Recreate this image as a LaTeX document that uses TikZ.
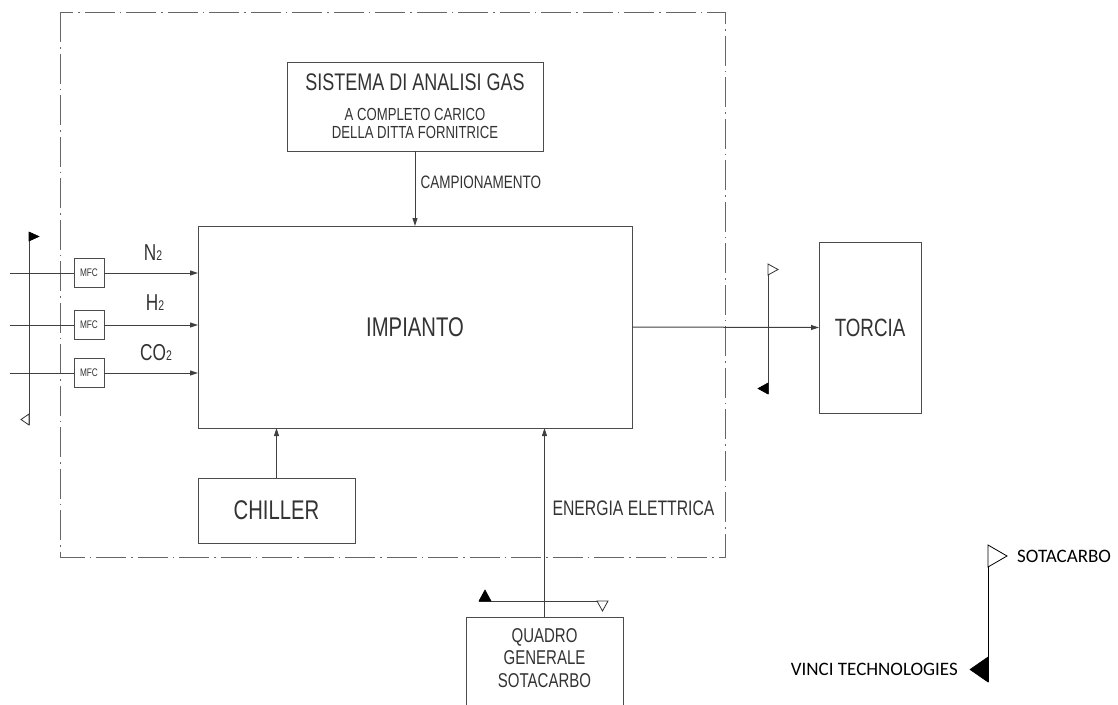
\documentclass[tikz,border=0pt]{standalone}
\usepackage{fontspec}
\newfontfamily\cadfont[FakeStretch=0.75]{Liberation Sans}
\newfontfamily\legendfont{Carlito}
\usetikzlibrary{arrows.meta,positioning}

\begin{document}
\begin{tikzpicture}[x=1pt,y=-1pt,
    blk/.style={draw=black!70, line width=1pt, inner sep=0pt, outer sep=0pt, text=black!80, font=\cadfont},
    mfc/.style={blk, minimum width=30pt, minimum height=29pt, font=\cadfont\fontsize{11}{12}\selectfont},
    cadtxt/.style={inner sep=0pt, text=black!80, font=\cadfont\fontsize{18}{20}\selectfont},
    legtxt/.style={inner sep=0pt, text=black, font=\legendfont\fontsize{19}{21}\selectfont},
    ln/.style={draw=black!75, line width=1pt},
    arr/.style={-{Triangle[length=8pt,width=5pt]}, draw=black!75, line width=1pt},
    bound/.style={draw=black!60, line width=1pt, dash pattern=on 30pt off 5pt on 1.5pt off 5pt},
    flagfull/.style={fill=black, draw=black, line width=0.6pt},
    flagopen/.style={fill=white, draw=black!80, line width=0.8pt}
]
\useasboundingbox (0,0) rectangle (1118,704);

% confine fornitura
\draw[bound] (60,12) rectangle (725,557);

% blocchi
\node[blk, minimum width=434pt, minimum height=202pt, font=\cadfont\fontsize{27}{30}\selectfont] (impianto) at (415,327) {IMPIANTO};
\node[blk, minimum width=256pt, minimum height=89pt, align=center, font=\cadfont\fontsize{17.5}{18}\selectfont] (sistema) at (415,106.5)
    {{\fontsize{24}{26}\selectfont SISTEMA DI ANALISI GAS}\\[12pt]A COMPLETO CARICO\\DELLA DITTA FORNITRICE};
\node[blk, minimum width=157pt, minimum height=65pt, font=\cadfont\fontsize{27}{30}\selectfont] (chiller) at (276.5,510.5) {CHILLER};
\node[blk, minimum width=102pt, minimum height=171pt, font=\cadfont\fontsize{25}{28}\selectfont] (torcia) at (870,327.5) {TORCIA};
\node[blk, anchor=north, minimum width=157pt, minimum height=100pt] (quadro) at (544.5,617) {};
\node[cadtxt, align=center, font=\cadfont\fontsize{20}{22.5}\selectfont, below=11pt of quadro.north] (quadrotxt) {QUADRO\\GENERALE\\SOTACARBO};

% alimentazione gas
\node[mfc] (mfcN) at (89,273) {MFC};
\node[mfc] (mfcH) at (89,325) {MFC};
\node[mfc] (mfcCO) at (89,373) {MFC};
\coordinate (inN) at (10,273);
\coordinate (inH) at (10,325);
\coordinate (inCO) at (10,373);
\node[cadtxt, font=\cadfont\fontsize{23}{25}\selectfont] (lblN) at (153,253) {N{\fontsize{14}{15}\selectfont 2}};
\node[cadtxt, font=\cadfont\fontsize{23}{25}\selectfont] (lblH) at (155,303) {H{\fontsize{14}{15}\selectfont 2}};
\node[cadtxt, font=\cadfont\fontsize{23}{25}\selectfont] (lblCO) at (156,353) {CO{\fontsize{14}{15}\selectfont 2}};

\draw[ln] (inN) -- (mfcN);
\draw[ln] (inH) -- (mfcH);
\draw[ln] (inCO) -- (mfcCO);
\draw[arr] (mfcN) -- (mfcN -| impianto.west);
\draw[arr] (mfcH) -- (mfcH -| impianto.west);
\draw[arr] (mfcCO) -- (mfcCO -| impianto.west);

% collegamenti
\draw[arr] (sistema.south) -- node[cadtxt, anchor=west, xshift=5pt, pos=0.42] (lblcamp) {CAMPIONAMENTO} (impianto.north);
\draw[arr] (chiller.north) -- (chiller.north |- impianto.south);
\draw[arr] (quadro.north) -- node[cadtxt, anchor=west, xshift=7.5pt, pos=0.577, font=\cadfont\fontsize{21}{23}\selectfont] (lblen) {ENERGIA ELETTRICA} (quadro.north |- impianto.south);
\draw[arr] (impianto.east) -- (torcia.west);

% limiti di fornitura
\draw[ln] (29,232) -- (29,425);
\filldraw[flagfull] (29,232) -- (39,236.5) -- (29,241) -- cycle;
\filldraw[flagopen] (29,414) -- (21,419.5) -- (29,425) -- cycle;

\draw[ln] (768,264) -- (768,394);
\filldraw[flagopen] (768,264) -- (778,269.5) -- (768,275) -- cycle;
\filldraw[flagfull] (768,383) -- (758,388.5) -- (768,394) -- cycle;

\draw[ln] (479,601) -- (608,601);
\filldraw[flagfull] (479,601) -- (485,590) -- (491,601) -- cycle;
\filldraw[flagopen] (597,601) -- (602.5,611) -- (608,601) -- cycle;

% legenda
\draw[black, line width=1pt] (988,545) -- (988,682);
\filldraw[flagopen, draw=black] (988,545) -- (1007,556) -- (988,567) -- cycle;
\filldraw[flagfull] (988,657) -- (970,669.5) -- (988,682) -- cycle;
\node[legtxt, anchor=west] (legS) at (1017,556) {SOTACARBO};
\node[legtxt, anchor=east] (legV) at (958,669.5) {VINCI TECHNOLOGIES};
\end{tikzpicture}
\end{document}
